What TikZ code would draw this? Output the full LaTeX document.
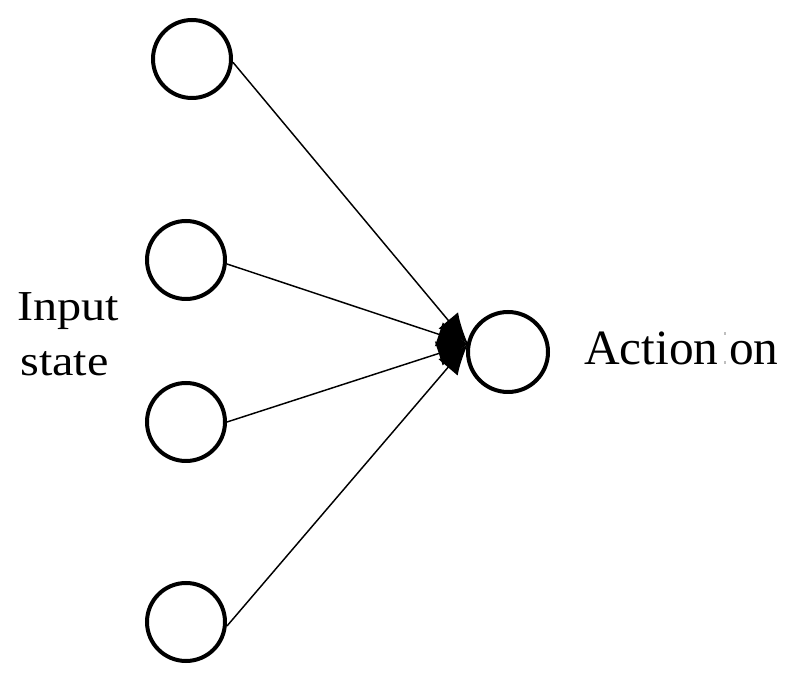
\documentclass[tikz,border=0pt]{standalone}
\usepackage{fontspec}
\setmainfont{Liberation Serif}
\usetikzlibrary{arrows.meta}
\begin{document}
\begin{tikzpicture}[x=0.75pt,y=-0.75pt,
  neuron/.style={circle,draw,line width=3pt,inner sep=0pt,minimum size=58.5pt},
  conn/.style={line width=1.1pt,-{Latex[length=23pt,width=19pt]}},
  lbl/.style={inner sep=0pt,anchor=base west}]
\useasboundingbox (0,0) rectangle (794,691);
\node[neuron] (i1) at (192,59) {};
\node[neuron] (i2) at (186,260) {};
\node[neuron] (i3) at (186,422) {};
\node[neuron] (i4) at (186,622) {};
\node[neuron,minimum size=60pt] (out) at (508,352) {};
\coordinate (conv) at (468,344);
\draw[conn] ([yshift=-2.5pt]i1.east) -- (conv);
\draw[conn] ([yshift=-3pt]i2.east) -- (conv);
\draw[conn] (i3.east) -- (conv);
\draw[conn] ([yshift=-3pt]i4.east) -- (conv);
\node[lbl,font=\fontsize{32}{38}\selectfont,xscale=1.13] (t1) at (17,321) {Input};
\node[lbl,font=\fontsize{32}{38}\selectfont,xscale=1.13] (t2) at (20,376) {state};
\node[lbl,font=\fontsize{37}{44}\selectfont] (a1) at (584,365) {Action};
\node[lbl,font=\fontsize{37}{44}\selectfont] (a2) at (729,365) {on};
\fill[black!25] (724,332) rectangle (726,335);
\fill[black!25] (724,361) rectangle (726,364);
\end{tikzpicture}
\end{document}
